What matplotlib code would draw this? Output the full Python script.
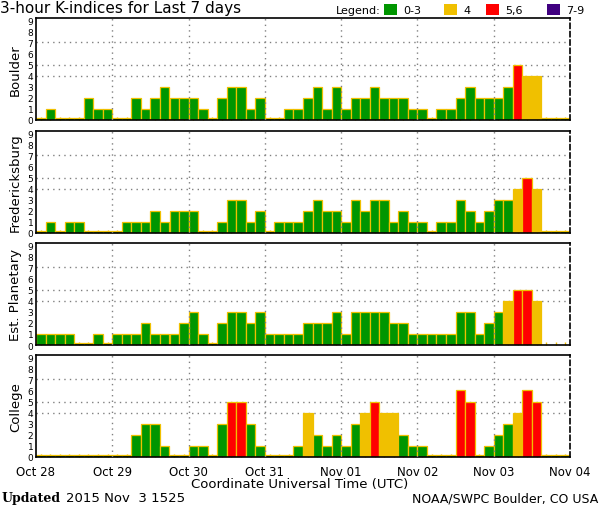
import matplotlib.pyplot as plt
import numpy as np

# 3-hour K-index values, Oct 28 00UT .. Nov 03 24UT (56 slots), None = no data
boulder = [0, 1, 0, 0, 0, 2, 1, 1,
           0, 0, 2, 1, 2, 3, 2, 2,
           2, 1, 0, 2, 3, 3, 1, 2,
           0, 0, 1, 1, 2, 3, 1, 3,
           1, 2, 2, 3, 2, 2, 2, 1,
           1, 0, 1, 1, 2, 3, 2, 2,
           2, 3, 5, 4, 4, 0, 0, 0]
fredericksburg = [0, 1, 0, 1, 1, 0, 0, 0,
                  0, 1, 1, 1, 2, 1, 2, 2,
                  2, 0, 0, 1, 3, 3, 1, 2,
                  0, 1, 1, 1, 2, 3, 2, 2,
                  1, 3, 2, 3, 3, 1, 2, 1,
                  1, 0, 1, 1, 3, 2, 1, 2,
                  3, 3, 4, 5, 4, 0, 0, 0]
planetary = [1, 1, 1, 1, 0, 0, 1, 0,
             1, 1, 1, 2, 1, 1, 1, 2,
             3, 1, 0, 2, 3, 3, 2, 3,
             1, 1, 1, 1, 2, 2, 2, 3,
             1, 3, 3, 3, 3, 2, 2, 1,
             1, 1, 1, 1, 3, 3, 1, 2,
             3, 4, 5, 5, 4, None, None, None]
college = [0, 0, 0, 0, 0, 0, 0, 0,
           0, 0, 2, 3, 3, 1, 0, 0,
           1, 1, 0, 3, 5, 5, 3, 1,
           0, 0, 0, 1, 4, 2, 1, 2,
           1, 3, 4, 5, 4, 4, 2, 1,
           1, 0, 0, 0, 6, 5, 0, 1,
           2, 3, 4, 6, 5, 0, 0, 0]

stations = ['Boulder', 'Fredericksburg', 'Est. Planetary', 'College']
series = [boulder, fredericksburg, planetary, college]
day_labels = ['Oct 28', 'Oct 29', 'Oct 30', 'Oct 31', 'Nov 01', 'Nov 02', 'Nov 03', 'Nov 04']

GREEN = '#009600'
YELLOW = '#f0c000'
RED = '#ff0000'
PURPLE = '#400080'


def kcolor(k):
    if k <= 3:
        return GREEN
    if k == 4:
        return YELLOW
    if k <= 6:
        return RED
    return PURPLE


W, H = 600, 510
fig = plt.figure(figsize=(6, 5.1), dpi=100)
fig.patch.set_facecolor('white')

left, width, ph = 36, 534, 102
tops = [19, 132, 244, 356]

for i, (name, vals) in enumerate(zip(stations, series)):
    ax = fig.add_axes([left / W, 1 - (tops[i] + ph) / H, width / W, ph / H])
    x = np.arange(len(vals))
    for xi, v in zip(x, vals):
        if v is None:
            continue
        h = v if v > 0 else 0.15
        ax.bar(xi, h, width=1.0, align='edge', color=kcolor(v),
               edgecolor=YELLOW, linewidth=0.9, zorder=2)
    ax.set_xlim(0, 56)
    ax.set_ylim(0, 9.2)
    for g in [4, 5, 7]:
        ax.axhline(g, color='#808080', ls=(0, (1, 3)), lw=1, zorder=1)
    for d in range(8, 56, 8):
        ax.axvline(d, color='#808080', ls=(0, (1, 3)), lw=1, zorder=3)
    ax.set_yticks(range(10))
    ax.set_yticklabels([str(k) for k in range(10)], fontsize=6.5)
    ax.tick_params(axis='y', length=0, pad=2)
    ax.set_xticks(range(0, 57, 8))
    ax.set_xticks(np.arange(0.5, 56, 1), minor=True)
    ax.tick_params(axis='x', which='major', length=0)
    ax.tick_params(axis='x', which='minor', direction='in', length=2.5,
                   color=YELLOW, width=1)
    if i == 3:
        ax.set_xticklabels(day_labels, fontsize=8.5)
        ax.tick_params(axis='x', which='major', pad=6)
    else:
        ax.set_xticklabels([])
    ax.set_ylabel(name, fontsize=9.5, labelpad=4)
    for s in ['left', 'top', 'bottom']:
        ax.spines[s].set_linewidth(1.2)
    ax.spines['right'].set_linestyle((0, (3, 2)))
    ax.spines['right'].set_linewidth(1.2)

fig.text(0 / W, 1 - 9 / H, '3-hour K-indices for Last 7 days', fontsize=11,
         va='center', ha='left')

# legend boxes at the top right
fig.text(336 / W, 1 - 11 / H, 'Legend:', fontsize=8, va='center', ha='left')
leg = [('0-3', GREEN, 384), ('4', YELLOW, 444), ('5,6', RED, 486), ('7-9', PURPLE, 547)]
for lab, col, px in leg:
    fig.patches.append(plt.Rectangle((px / W, 1 - 16 / H), 13 / W, 11 / H,
                                     transform=fig.transFigure, facecolor=col,
                                     edgecolor='none'))
    fig.text((px + 19) / W, 1 - 11 / H, lab, fontsize=8, va='center', ha='left')

fig.text(300 / W, 1 - 485 / H, 'Coordinate Universal Time (UTC)', fontsize=9.5,
         ha='center', va='center')
fig.text(2 / W, 1 - 499 / H, 'Updated', fontsize=9, family='DejaVu Serif',
         weight='bold', ha='left', va='center')
fig.text(66 / W, 1 - 499 / H, '2015 Nov  3 1525', fontsize=9.5, ha='left', va='center')
fig.text(598 / W, 1 - 499 / H, 'NOAA/SWPC Boulder, CO USA', fontsize=9,
         ha='right', va='center')

fig.savefig('out.png', dpi=100)
